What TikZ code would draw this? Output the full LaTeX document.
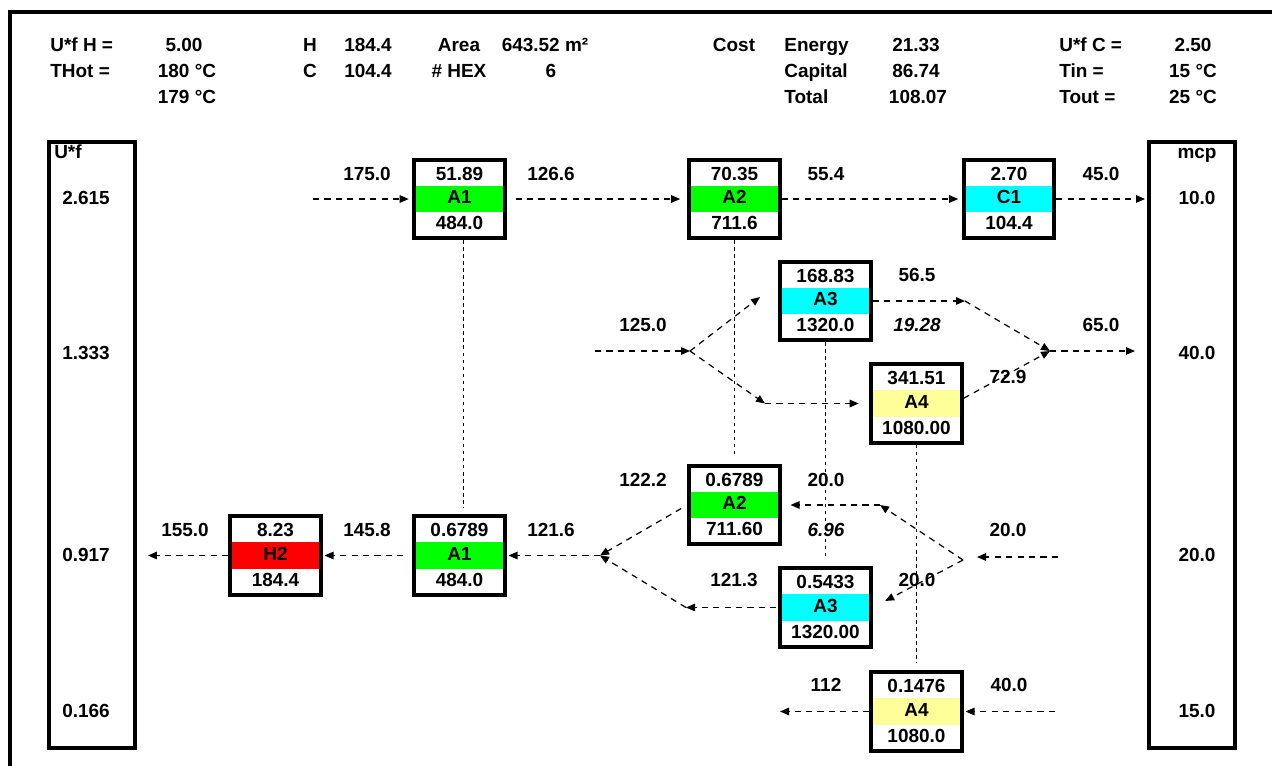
\documentclass[tikz,border=0pt]{standalone}
\usepackage{fontspec}
\setmainfont{Liberation Sans}
\usetikzlibrary{arrows.meta,shapes.multipart,calc}

\definecolor{hxgreen}{RGB}{0,255,0}
\definecolor{hxcyan}{RGB}{0,255,255}
\definecolor{hxyellow}{RGB}{255,255,153}
\definecolor{hxred}{RGB}{255,0,0}
\newcommand{\hxs}{\rule[-0.12cm]{0pt}{0.42cm}}
\newcommand{\hxt}{\rule[-0.06cm]{0pt}{0.42cm}}

\begin{document}
\begin{tikzpicture}[x=0.02cm, y=-0.02cm, every node/.style={font=\fontsize{10.8}{13}\selectfont\bfseries, inner sep=0pt, text height=7.8pt, text depth=0pt}, hx/.style={rectangle split, rectangle split parts=3, rectangle split draw splits=false, draw, line width=2.3pt, text width=1.71cm, align=center, inner xsep=0.05cm, inner ysep=0.01cm, text height=, text depth=, rectangle split part fill={white,#1,white}}, bar/.style={draw, line width=2.2pt, minimum width=1.73cm, minimum height=12.13cm}, flow/.style={dash pattern=on 3.5pt off 3pt, line width=0.7pt, -{Triangle[length=1.8mm,width=1.5mm]}}, link/.style={dash pattern=on 2pt off 2pt, line width=0.45pt}, note/.style={font=\fontsize{10.8}{13}\selectfont\bfseries\itshape}]
\useasboundingbox (0,0) rectangle (1272,765);
\draw[line width=2pt] (10,790) -- (10,12) -- (1290,12);

% header
\node[anchor=west] (ufh) at (50,45) {U*f H =};
\node (ufhval) at (184,45) {5.00};
\node[anchor=west] (thot) at (50,71) {THot =};
\node (thotval) at (187,71) {180 °C};
\node (thotval2) at (187,97) {179 °C};
\node (hlbl) at (310,45) {H};
\node (hval) at (368,45) {184.4};
\node (clbl) at (310,71) {C};
\node (cval) at (368,71) {104.4};
\node (arealbl) at (459,45) {Area};
\node (areaval) at (545,45) {643.52 m²};
\node (hexlbl) at (459,71) {\# HEX};
\node (hexval) at (551,71) {6};
\node (costlbl) at (734,45) {Cost};
\node[anchor=west] (energy) at (784,45) {Energy};
\node (energyval) at (916,45) {21.33};
\node[anchor=west] (capital) at (784,71) {Capital};
\node (capitalval) at (916,71) {86.74};
\node[anchor=west] (total) at (784,97) {Total};
\node (totalval) at (918,97) {108.07};
\node[anchor=west] (ufc) at (1059,45) {U*f C =};
\node (ufcval) at (1193,45) {2.50};
\node[anchor=west] (tin) at (1059,71) {Tin =};
\node (tinval) at (1193,71) {15 °C};
\node[anchor=west] (tout) at (1059,97) {Tout =};
\node (toutval) at (1193,97) {25 °C};

% side bars
\node[bar] (ufbar) at (92,445) {};
\node[bar] (mcpbar) at (1192,445) {};
\node (uftitle) at (68,152) {U*f};
\node (uf1) at (86,198) {2.615};
\node (uf2) at (86,353) {1.333};
\node (uf3) at (86,555) {0.917};
\node (uf4) at (86,711) {0.166};
\node (mcptitle) at (1197,152) {mcp};
\node (mcp1) at (1197,198) {10.0};
\node (mcp2) at (1197,353) {40.0};
\node (mcp3) at (1197,555) {20.0};
\node (mcp4) at (1197,711) {15.0};

% exchangers
\node[hx=hxgreen] (a1top) at (459.5,199) {\hxt 51.89 \nodepart{two} \hxs A1 \nodepart{three} \hxs 484.0};
\node[hx=hxgreen] (a2top) at (734.5,199) {\hxt 70.35 \nodepart{two} \hxs A2 \nodepart{three} \hxs 711.6};
\node[hx=hxcyan] (c1) at (1009,199) {\hxt 2.70 \nodepart{two} \hxs C1 \nodepart{three} \hxs 104.4};
\node[hx=hxcyan] (a3mid) at (825.5,301) {\hxt 168.83 \nodepart{two} \hxs A3 \nodepart{three} \hxs 1320.0};
\node[hx=hxyellow] (a4mid) at (916.5,403.5) {\hxt 341.51 \nodepart{two} \hxs A4 \nodepart{three} \hxs 1080.00};
\node[hx=hxgreen] (a2low) at (734.5,505) {\hxt 0.6789 \nodepart{two} \hxs A2 \nodepart{three} \hxs 711.60};
\node[hx=hxcyan] (a3low) at (825.5,607.5) {\hxt 0.5433 \nodepart{two} \hxs A3 \nodepart{three} \hxs 1320.00};
\node[hx=hxgreen] (a1low) at (459.5,555.5) {\hxt 0.6789 \nodepart{two} \hxs A1 \nodepart{three} \hxs 484.0};
\node[hx=hxred] (h2) at (275.5,555.5) {\hxt 8.23 \nodepart{two} \hxs H2 \nodepart{three} \hxs 184.4};
\node[hx=hxyellow] (a4bot) at (916.5,711.5) {\hxt 0.1476 \nodepart{two} \hxs A4 \nodepart{three} \hxs 1080.0};

% links between matches
\draw[link, shorten >=4pt] ([xshift=2pt]a1top.south) -- ([xshift=2pt]a1low.north);
\draw[link, shorten >=4pt] (a2top.south) -- (a2low.north);
\draw[link, shorten >=5pt] (a3mid.south) -- (a3low.north);
\draw[link, shorten >=4pt] (a4mid.south) -- (a4bot.north);

% hot row
\coordinate (hin) at (313,199);
\draw[flow, shorten >=2pt] (hin) -- (a1top.west);
\draw[flow, shorten <=5pt, shorten >=4pt] (a1top.east) -- (a2top.west);
\draw[flow, shorten >=2pt] (a2top.east) -- (c1.west);
\draw[flow, shorten >=1pt] (c1.east) -- (c1.east -| mcpbar.west);
\node (t175) at (367,174) {175.0};
\node (t126) at (551,174) {126.6};
\node (t55) at (826,174) {55.4};
\node (t45) at (1101,174) {45.0};

% split over A3 / A4
\coordinate (cin) at (595,351);
\coordinate (csplit) at (690,351);
\coordinate (a3in) at (760,297);
\coordinate (a4turn) at (765,403.5);
\coordinate (a3out) at (965,301);
\coordinate (cmix) at (1050,351);
\coordinate (cout) at (1135,351);
\draw[flow] (cin) -- (csplit);
\draw[flow] (csplit) -- (a3in);
\draw[flow] (csplit) -- (a4turn);
\draw[flow, shorten >=6pt] (a4turn) -- (a4mid.west);
\draw[flow] (a3mid.east) -- (a3out);
\draw[flow] (a3out) -- (cmix);
\draw[flow] ([yshift=3pt]a4mid.east) -- (cmix);
\draw[flow] (cmix) -- (cout);
\node (t125) at (643,325) {125.0};
\node (t56) at (917,275) {56.5};
\node[note] (t1928) at (917,325) {19.28};
\node (t72) at (1008,377) {72.9};
\node (t65) at (1101,325) {65.0};

% row at 0.917
\coordinate (lin) at (1058,557);
\coordinate (ltip) at (977,557);
\coordinate (lsplit) at (963,560);
\coordinate (a2in) at (880,505);
\coordinate (lmix) at (600,555.5);
\coordinate (a3turn) at (686,607.5);
\coordinate (hout) at (148,555.5);
\draw[flow] (lin) -- (ltip);
\draw[flow] (lsplit) -- (a2in);
\draw[flow, shorten >=5pt] (a2in) -- (a2low.east);
\draw[flow, shorten >=8pt] (lsplit) -- (a3low.east);
\draw[flow, shorten <=4pt] (a2low.west) -- (lmix);
\draw[flow, shorten <=1pt] (a3low.west) -- (a3turn);
\draw[flow] (a3turn) -- (lmix);
\draw[flow, shorten >=1pt] (lmix) -- (a1low.east);
\draw[flow, shorten <=5pt, shorten >=1pt] (a1low.west) -- (h2.east);
\draw[flow] (h2.west) -- (hout);
\node (t20r) at (1008,530) {20.0};
\node (t20a) at (826,480) {20.0};
\node[note] (t696) at (826,530) {6.96};
\node (t20b) at (917,580) {20.0};
\node (t122) at (643,480) {122.2};
\node (t121b) at (734,580) {121.3};
\node (t121a) at (551,530) {121.6};
\node (t145) at (367,530) {145.8};
\node (t155) at (185,530) {155.0};

% bottom row
\coordinate (bin) at (1055,711.5);
\coordinate (bout) at (780,711.5);
\draw[flow, shorten >=1pt] (bin) -- (a4bot.east);
\draw[flow] (a4bot.west) -- (bout);
\node (t40) at (1009,685) {40.0};
\node (t112) at (826,685) {112};
\end{tikzpicture}
\end{document}
